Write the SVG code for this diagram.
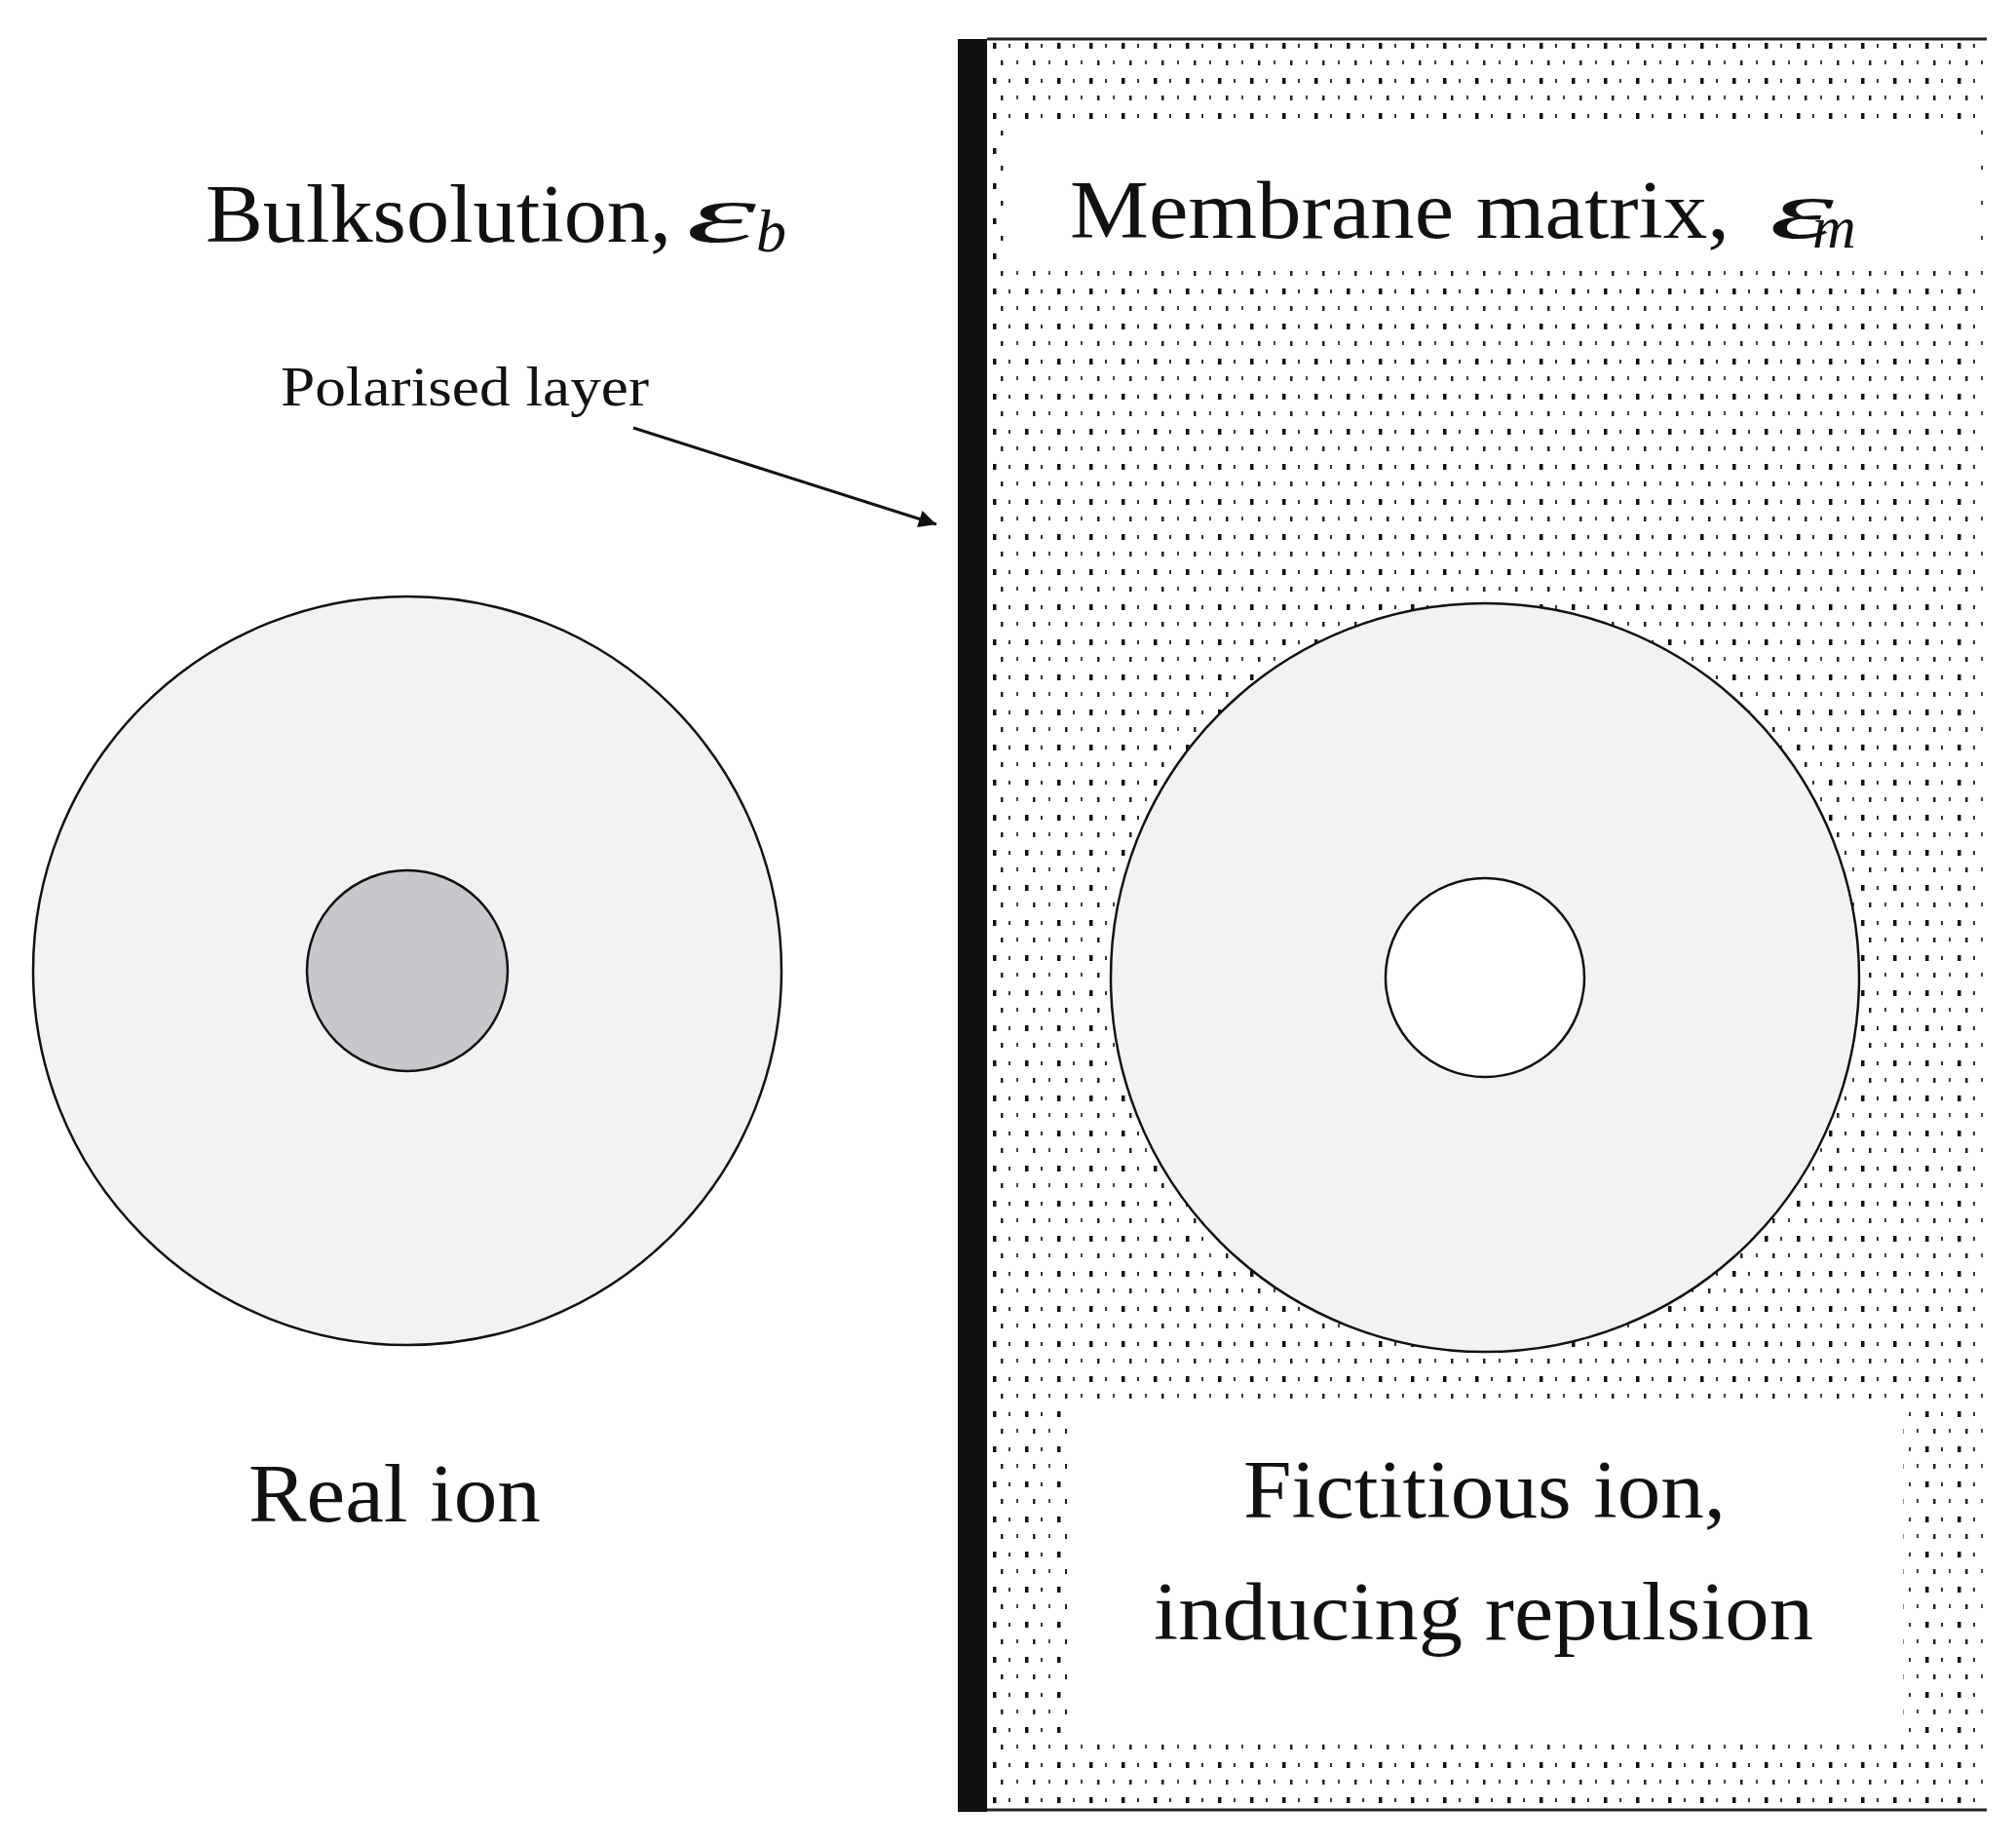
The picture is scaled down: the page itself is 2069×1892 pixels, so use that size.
<svg xmlns="http://www.w3.org/2000/svg" width="2069" height="1892" viewBox="0 0 2069 1892">
<style>
.t{font-family:"Liberation Serif","Times New Roman",serif;fill:#111}
.e{font-family:"Liberation Serif","Times New Roman",serif;font-style:italic;fill:#111}
.ring{fill:#f2f2f4;stroke:#111;stroke-width:2.5}
</style>
<defs>
<pattern id="dots" x="1015" y="40" width="33" height="36" patternUnits="userSpaceOnUse">
<rect x="4" y="4" width="3.5" height="6" fill="#111"/>
<rect x="20" y="5" width="2" height="4" fill="#333"/>
<rect x="12" y="22" width="2.5" height="5" fill="#222"/>
<rect x="28" y="22" width="2" height="4" fill="#444"/>
</pattern>
<marker id="ah" viewBox="0 0 10 10" refX="10" refY="5" markerWidth="30" markerHeight="18" markerUnits="userSpaceOnUse" orient="auto"><path d="M0,0 L10,5 L0,10 z" fill="#111"/></marker>
</defs>
<rect width="2069" height="1892" fill="#fff"/>
<g id="membrane">
<rect x="1013" y="40" width="1026" height="1817" fill="url(#dots)"/>
<rect x="1035" y="125" width="995" height="152" fill="#fff"/>
<rect x="1095" y="1445" width="858" height="336" fill="#fff"/>
<line x1="1013" y1="40" x2="2039" y2="40" stroke="#222" stroke-width="3"/>
<line x1="1013" y1="1857" x2="2039" y2="1857" stroke="#222" stroke-width="3"/>
<rect x="983" y="40" width="30" height="1819" fill="#111"/>
</g>
<g id="real-ion">
<circle class="ring" cx="418" cy="996" r="384"/>
<circle cx="418" cy="996" r="103" fill="#c8c8cc" stroke="#111" stroke-width="2.5"/>
<text class="t" x="255" y="1561" font-size="84" textLength="300" lengthAdjust="spacingAndGlyphs">Real ion</text>
</g>
<g id="fictitious-ion">
<circle class="ring" cx="1524" cy="1003" r="384"/>
<circle cx="1524" cy="1003" r="102" fill="#fff" stroke="#111" stroke-width="2.5"/>
<text class="t" x="1276" y="1557" font-size="84" textLength="495" lengthAdjust="spacingAndGlyphs">Fictitious ion,</text>
<text class="t" x="1184" y="1682" font-size="84" textLength="677" lengthAdjust="spacingAndGlyphs">inducing repulsion</text>
</g>
<g id="labels">
<text class="t" x="211" y="248" font-size="84" textLength="478" lengthAdjust="spacingAndGlyphs">Bulksolution,</text>
<text class="e" x="704" y="248" font-size="84" textLength="72" lengthAdjust="spacingAndGlyphs">ε</text>
<text class="e" x="776" y="258" font-size="62">b</text>
<text class="t" x="1098" y="244" font-size="84" textLength="677" lengthAdjust="spacingAndGlyphs">Membrane  matrix,</text>
<text class="e" x="1816" y="244" font-size="84" textLength="66" lengthAdjust="spacingAndGlyphs">ε</text>
<text class="e" x="1860" y="254" font-size="62">m</text>
<text class="t" x="288" y="416" font-size="58" textLength="378" lengthAdjust="spacingAndGlyphs">Polarised layer</text>
</g>
<g id="connectors">
<line x1="650" y1="439" x2="961" y2="538" stroke="#111" stroke-width="3" marker-end="url(#ah)"/>
</g>
</svg>
